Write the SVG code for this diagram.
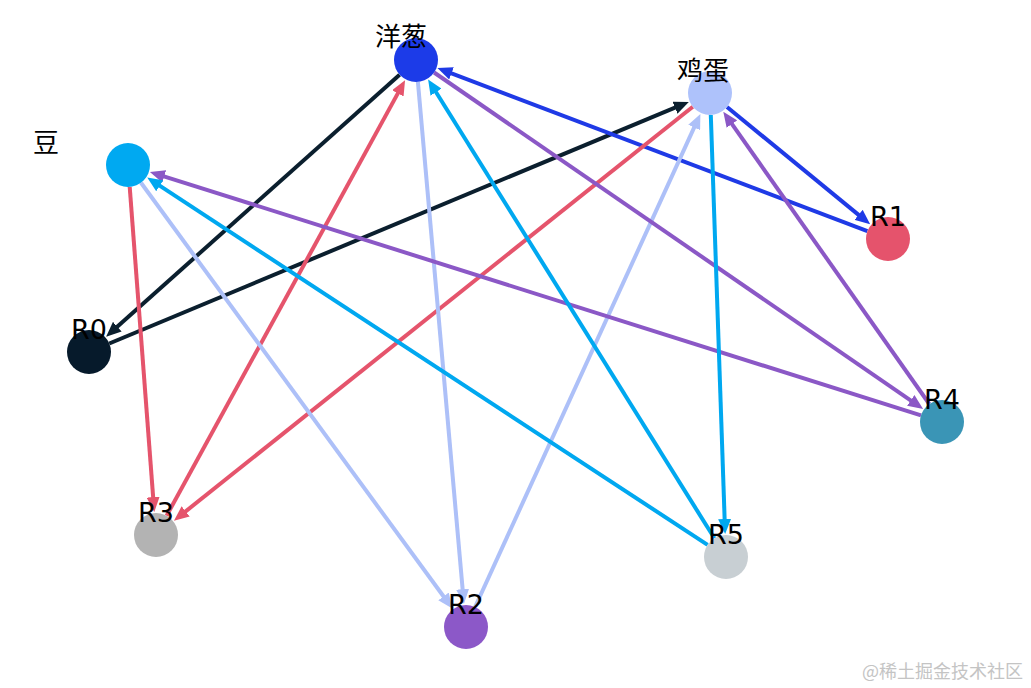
<svg xmlns="http://www.w3.org/2000/svg" width="1031" height="688" viewBox="0 0 1031 688">
<style>
.e{stroke-width:4;fill:none}
.n{stroke:none}
.lbl{font-family:"DejaVu Sans",sans-serif;font-size:27px;fill:#000;text-anchor:middle}
.cjk{font-family:"Noto Sans CJK SC",sans-serif;font-size:26px;fill:#000;text-anchor:middle}
.wm{font-family:"Noto Sans CJK SC",sans-serif;font-size:18px;fill:#c4c4c4}
</style>
<defs>
<marker id="a-navy" markerUnits="userSpaceOnUse" markerWidth="15" markerHeight="13" refX="2" refY="6.5" orient="auto" viewBox="0 0 15 13"><path d="M0,0 L15,6.5 L0,13 z" fill="#0b1f2e"/></marker>
<marker id="a-blue" markerUnits="userSpaceOnUse" markerWidth="15" markerHeight="13" refX="2" refY="6.5" orient="auto" viewBox="0 0 15 13"><path d="M0,0 L15,6.5 L0,13 z" fill="#1f3ae6"/></marker>
<marker id="a-red" markerUnits="userSpaceOnUse" markerWidth="15" markerHeight="13" refX="2" refY="6.5" orient="auto" viewBox="0 0 15 13"><path d="M0,0 L15,6.5 L0,13 z" fill="#e5546c"/></marker>
<marker id="a-lb" markerUnits="userSpaceOnUse" markerWidth="15" markerHeight="13" refX="2" refY="6.5" orient="auto" viewBox="0 0 15 13"><path d="M0,0 L15,6.5 L0,13 z" fill="#adc0f8"/></marker>
<marker id="a-pur" markerUnits="userSpaceOnUse" markerWidth="15" markerHeight="13" refX="2" refY="6.5" orient="auto" viewBox="0 0 15 13"><path d="M0,0 L15,6.5 L0,13 z" fill="#8b58c6"/></marker>
<marker id="a-cyan" markerUnits="userSpaceOnUse" markerWidth="15" markerHeight="13" refX="2" refY="6.5" orient="auto" viewBox="0 0 15 13"><path d="M0,0 L15,6.5 L0,13 z" fill="#00a8f0"/></marker>
</defs>
<rect width="1031" height="688" fill="#fff"/>
<g id="edges">
<line class="e" x1="399.6" y1="74.7" x2="115.8" y2="328.0" stroke="#0b1f2e" marker-end="url(#a-navy)"/>
<line class="e" x1="109.3" y1="343.5" x2="676.8" y2="106.9" stroke="#0b1f2e" marker-end="url(#a-navy)"/>
<line class="e" x1="867.4" y1="231.2" x2="449.6" y2="72.7" stroke="#1f3ae6" marker-end="url(#a-blue)"/>
<line class="e" x1="727.0" y1="107.0" x2="860.1" y2="216.1" stroke="#1f3ae6" marker-end="url(#a-blue)"/>
<line class="e" x1="129.7" y1="186.9" x2="153.3" y2="499.1" stroke="#e5546c" marker-end="url(#a-red)"/>
<line class="e" x1="166.6" y1="515.7" x2="398.8" y2="91.6" stroke="#e5546c" marker-end="url(#a-red)"/>
<line class="e" x1="692.8" y1="106.7" x2="184.1" y2="512.6" stroke="#e5546c" marker-end="url(#a-red)"/>
<line class="e" x1="141.0" y1="182.8" x2="444.7" y2="598.0" stroke="#adc0f8" marker-end="url(#a-lb)"/>
<line class="e" x1="417.9" y1="81.9" x2="462.8" y2="591.1" stroke="#adc0f8" marker-end="url(#a-lb)"/>
<line class="e" x1="475.1" y1="607.0" x2="695.0" y2="125.7" stroke="#adc0f8" marker-end="url(#a-lb)"/>
<line class="e" x1="921.0" y1="415.4" x2="162.3" y2="175.8" stroke="#8b58c6" marker-end="url(#a-pur)"/>
<line class="e" x1="434.1" y1="72.5" x2="912.4" y2="401.6" stroke="#8b58c6" marker-end="url(#a-pur)"/>
<line class="e" x1="929.3" y1="404.0" x2="730.8" y2="122.4" stroke="#8b58c6" marker-end="url(#a-pur)"/>
<line class="e" x1="707.6" y1="544.9" x2="158.1" y2="184.7" stroke="#00a8f0" marker-end="url(#a-cyan)"/>
<line class="e" x1="714.4" y1="538.3" x2="435.0" y2="90.5" stroke="#00a8f0" marker-end="url(#a-cyan)"/>
<line class="e" x1="710.8" y1="115.0" x2="724.7" y2="521.0" stroke="#00a8f0" marker-end="url(#a-cyan)"/>
</g>
<g id="node-onion"><circle class="n" cx="416" cy="60" r="22" fill="#1c3be8"/><text class="cjk" x="401" y="46">洋葱</text></g>
<g id="node-egg"><circle class="n" cx="710" cy="93" r="22" fill="#aec2fb"/><text class="cjk" x="703" y="80">鸡蛋</text></g>
<g id="node-bean"><circle class="n" cx="128" cy="165" r="22" fill="#00a9f1"/><text class="cjk" x="46" y="152">豆</text></g>
<g id="node-R0"><circle class="n" cx="89" cy="352" r="22" fill="#061a2b"/><text class="lbl" x="89" y="339">R0</text></g>
<g id="node-R1"><circle class="n" cx="888" cy="239" r="22" fill="#e5536c"/><text class="lbl" x="888" y="226">R1</text></g>
<g id="node-R2"><circle class="n" cx="466" cy="627" r="22" fill="#8c58c8"/><text class="lbl" x="466" y="614">R2</text></g>
<g id="node-R3"><circle class="n" cx="156" cy="535" r="22" fill="#b3b3b3"/><text class="lbl" x="156" y="522">R3</text></g>
<g id="node-R4"><circle class="n" cx="942" cy="422" r="22" fill="#3a95b6"/><text class="lbl" x="942" y="409">R4</text></g>
<g id="node-R5"><circle class="n" cx="726" cy="557" r="22" fill="#c8cfd3"/><text class="lbl" x="726" y="544">R5</text></g>
<text class="wm" x="862" y="678">@稀土掘金技术社区</text>
</svg>
